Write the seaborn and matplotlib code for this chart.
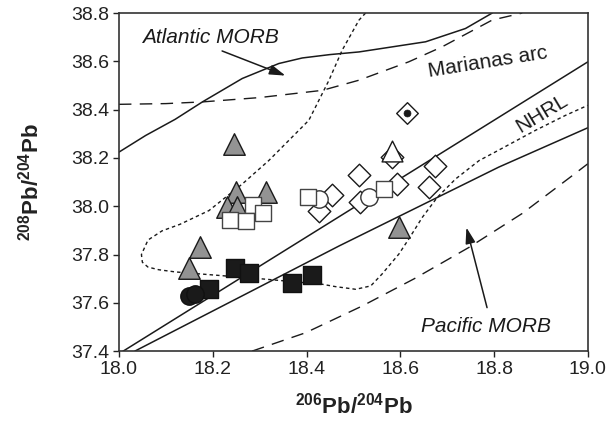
import numpy as np
import pandas as pd
import matplotlib
matplotlib.use("Agg")
import matplotlib.pyplot as plt
import seaborn as sns

# --- sample compositions (206Pb/204Pb, 208Pb/204Pb) ---
gray_tri_x = [18.246, 18.249, 18.313, 18.231, 18.252, 18.172, 18.149, 18.598]
gray_tri_y = [38.259, 38.058, 38.058, 37.998, 37.995, 37.832, 37.746, 37.915]

open_sq_x = [18.286, 18.236, 18.270, 18.308, 18.404, 18.565]
open_sq_y = [38.006, 37.943, 37.940, 37.970, 38.040, 38.072]

open_circ_x = [18.426, 18.534]
open_circ_y = [38.030, 38.037]

open_dia_x = [18.426, 18.455, 18.512, 18.515, 18.593, 18.583, 18.661, 18.675]
open_dia_y = [37.982, 38.048, 38.131, 38.016, 38.092, 38.203, 38.078, 38.168]

open_tri_x = [18.583]
open_tri_y = [38.228]

dot_dia_x = [18.615]
dot_dia_y = [38.386]

black_sq_x = [18.192, 18.247, 18.277, 18.370, 18.411]
black_sq_y = [37.656, 37.746, 37.725, 37.681, 37.716]

black_circ_x = [18.149, 18.163]
black_circ_y = [37.628, 37.638]

# --- reference lines and fields ---
nhrl_x = [18.0, 19.0]
nhrl_y = [37.389, 38.598]

nhrl_lower_x = [18.034, 18.47, 18.81, 19.0]
nhrl_lower_y = [37.40, 37.836, 38.162, 38.325]

atlantic_x = [18.0, 18.057, 18.12, 18.178, 18.263, 18.341, 18.391, 18.45, 18.512,
              18.654, 18.739, 18.796]
atlantic_y = [38.224, 38.293, 38.36, 38.432, 38.529, 38.591, 38.614, 38.628, 38.639,
              38.681, 38.736, 38.80]

arc_upper_x = [18.0, 18.1, 18.178, 18.30, 18.434, 18.512, 18.618, 18.689, 18.796, 18.86]
arc_upper_y = [38.422, 38.425, 38.432, 38.45, 38.48, 38.522, 38.598, 38.66, 38.771, 38.80]

pacific_x = [18.284, 18.398, 18.519, 18.63, 18.746, 18.86, 18.967, 19.0]
pacific_y = [37.40, 37.476, 37.587, 37.70, 37.829, 37.97, 38.127, 38.176]

arc_field_x = [18.526, 18.512, 18.476, 18.448, 18.405, 18.32, 18.263, 18.192, 18.13,
               18.092, 18.062, 18.048, 18.050, 18.062, 18.085, 18.12, 18.171, 18.30,
               18.433, 18.462, 18.505, 18.537, 18.561, 18.597, 18.618, 18.647, 18.679,
               18.718, 18.768, 18.80, 18.888, 18.952, 19.0]
arc_field_y = [38.80, 38.771, 38.646, 38.522, 38.356, 38.19, 38.092, 37.982, 37.925,
               37.898, 37.86, 37.80, 37.768, 37.748, 37.737, 37.728, 37.72, 37.70,
               37.677, 37.667, 37.656, 37.670, 37.719, 37.802, 37.864, 37.954, 38.037,
               38.113, 38.189, 38.222, 38.314, 38.376, 38.418]

x_ticks = [18.0, 18.2, 18.4, 18.6, 18.8, 19.0]
y_ticks = [37.4, 37.6, 37.8, 38.0, 38.2, 38.4, 38.6, 38.8]

sns.set_theme(style="ticks")
plt.rcParams["font.family"] = ["Liberation Sans", "DejaVu Sans"]
plt.rcParams["mathtext.fontset"] = "custom"
plt.rcParams["mathtext.rm"] = "Liberation Sans"
plt.rcParams["mathtext.bf"] = "Liberation Sans:bold"
plt.rcParams["mathtext.it"] = "Liberation Sans:italic"

fig = plt.figure(figsize=(6.13, 4.21), dpi=100)
ax = fig.add_axes([0.194, 0.166, 0.765, 0.803])

ink = "#1a1a1a"

def curve(xs, ys, **kw):
    df = pd.DataFrame({"x": xs, "y": ys})
    sns.lineplot(data=df, x="x", y="y", sort=False, ax=ax, color=ink,
                 estimator=None, zorder=2, **kw)

curve(nhrl_x, nhrl_y, linewidth=1.1)
curve(nhrl_lower_x, nhrl_lower_y, linewidth=1.1)
curve(atlantic_x, atlantic_y, linewidth=1.1)
curve(arc_upper_x, arc_upper_y, linewidth=1.0, dashes=(9, 6))
curve(pacific_x, pacific_y, linewidth=1.0, dashes=(9, 6))
curve(arc_field_x, arc_field_y, linewidth=1.0, dashes=(2.5, 2.2))

def pts(xs, ys, marker, size, face, edge, z, lw=1.0):
    df = pd.DataFrame({"x": xs, "y": ys})
    sns.scatterplot(data=df, x="x", y="y", marker=marker, s=size ** 2, color=face,
                    edgecolor=edge, linewidth=lw, ax=ax, zorder=z, legend=False)

pts(gray_tri_x, gray_tri_y, "^", 15.5, "#939393", ink, 3)
pts(open_dia_x, open_dia_y, "D", 11.5, "white", ink, 3)
pts(open_circ_x, open_circ_y, "o", 12.5, "white", "#333333", 4)
pts(open_sq_x, open_sq_y, "s", 12.2, "white", "#444444", 5)
pts(black_sq_x, black_sq_y, "s", 13.2, ink, "#111111", 5)
pts(black_circ_x, black_circ_y, "o", 12.5, ink, "#111111", 6)
pts(open_tri_x, open_tri_y, "^", 15, "white", ink, 6)
pts(dot_dia_x, dot_dia_y, "D", 11.0, "white", ink, 3)
pts(dot_dia_x, dot_dia_y, "o", 5.0, ink, ink, 7, lw=0.5)

ax.set_xlim(18.0, 19.0)
ax.set_ylim(37.4, 38.8)
ax.set_xticks(x_ticks)
ax.set_yticks(y_ticks)
ax.set_xticklabels([f"{v:.1f}" for v in x_ticks])
ax.set_yticklabels([f"{v:.1f}" for v in y_ticks])
ax.tick_params(axis="both", direction="out", length=4, width=1.0, labelsize=14,
               colors="#222222", pad=3)
ax.tick_params(top=False, right=False)

for side in ["left", "bottom", "top", "right"]:
    ax.spines[side].set_visible(True)
    ax.spines[side].set_color("#333333")
    ax.spines[side].set_linewidth(1.2)

ax.set_xlabel(r"$\mathbf{^{206}Pb/^{204}Pb}$", fontsize=16, color="#222222")
ax.set_ylabel(r"$\mathbf{^{208}Pb/^{204}Pb}$", fontsize=16, color="#222222")
ax.xaxis.set_label_coords(0.5, -0.122)
ax.yaxis.set_label_coords(-0.16, 0.5)

# field labels
ax.text(18.196, 38.70, "Atlantic MORB", fontsize=15, style="italic",
        ha="center", va="center", color=ink)
ax.text(18.787, 38.596, "Marianas arc", fontsize=15, rotation=9,
        ha="center", va="center", color=ink)
ax.text(18.901, 38.383, "NHRL", fontsize=15, rotation=31,
        ha="center", va="center", color=ink)
ax.text(18.782, 37.50, "Pacific MORB", fontsize=15, style="italic",
        ha="center", va="center", color=ink)

arrow = dict(arrowstyle="-|>,head_length=0.8,head_width=0.25", color=ink, lw=1.1,
             shrinkA=0, shrinkB=0)
ax.annotate("", xy=(18.355, 38.541), xytext=(18.220, 38.643), arrowprops=arrow)
ax.annotate("", xy=(18.741, 37.912), xytext=(18.785, 37.580), arrowprops=arrow)

fig.savefig("out.png", dpi=100)
